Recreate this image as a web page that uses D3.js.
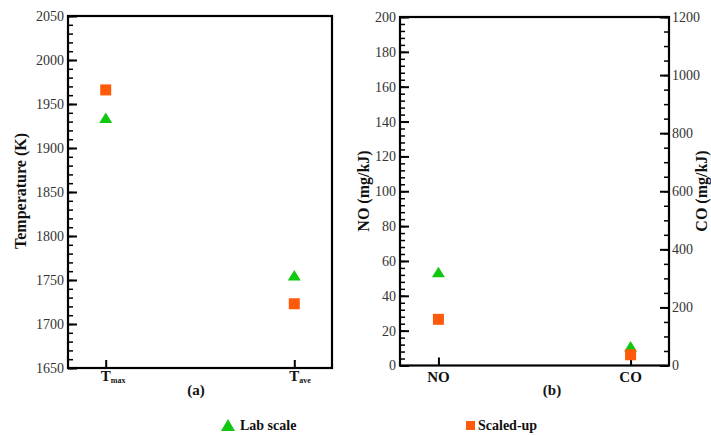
<!DOCTYPE html>
<html lang="en">
<head>
<meta charset="UTF-8">
<title>Temperature and emissions</title>
<script src="https://cdn.jsdelivr.net/npm/d3@7"></script>
<style>
  body { margin: 0; background: #fff; }
  svg text { font-family: 'Liberation Serif', 'Times New Roman', Times, serif; }
  .tick text { fill: #333; font-size: 14px; }
  .title { font-weight: bold; font-size: 16px; fill: #111; }
  .cat { font-weight: bold; font-size: 15px; fill: #111; }
</style>
</head>
<body>
<svg id="chart" width="711" height="435"></svg>
<script>

// panel (a): temperatures
var tempCats = ["max", "ave"];
var tempLab = [1934, 1755];
var tempScaled = [1966, 1723];
var tempTicks = [1650, 1700, 1750, 1800, 1850, 1900, 1950, 2000, 2050];

// panel (b): emissions, NO on left axis, CO on right axis
var emisCats = ["NO", "CO"];
var noLab = 53.5, noScaled = 26.5;
var coLab = 65, coScaled = 37;
var noTicks = [0, 20, 40, 60, 80, 100, 120, 140, 160, 180, 200];
var coTicks = [0, 200, 400, 600, 800, 1000, 1200];

var labColor = "#10c810";
var scaledColor = "#ff5a0a";

var svg = d3.select("#chart");

function triangle(g, x, y) {
  g.append("path")
    .attr("d", "M" + (x - 6.5) + "," + (y + 5) + "L" + (x + 6.5) + "," + (y + 5) + "L" + x + "," + (y - 5.5) + "Z")
    .attr("fill", labColor);
}
function square(g, x, y, s) {
  g.append("rect")
    .attr("x", x - s / 2).attr("y", y - s / 2)
    .attr("width", s).attr("height", s)
    .attr("fill", scaledColor);
}

function frame(g, l, t, r, b) {
  g.append("rect").attr("x", l).attr("y", t).attr("width", r - l).attr("height", b - t)
    .attr("fill", "none").attr("stroke", "#000").attr("stroke-width", 2.2);
}

// ticks point into the plot, no domain line (the frame draws it)
function styleAxis(a, w) {
  a.attr("font-family", null).attr("font-size", null);
  a.select(".domain").remove();
  a.selectAll(".tick line").attr("stroke", "#000").attr("stroke-width", w);
}

// ---------- panel (a) ----------
var A = { l: 68, t: 16, r: 332, b: 368 };
var ga = svg.append("g");
var xa = d3.scaleLinear().domain([-0.2, 1.2]).range([A.l, A.r]);
var ya = d3.scaleLinear().domain([1650, 2050]).range([A.b, A.t]);

styleAxis(ga.append("g").attr("transform", "translate(" + A.l + ",0)")
  .call(d3.axisLeft(ya).tickValues(d3.range(1650, 2051, 10)).tickSizeInner(-5).tickSizeOuter(0).tickFormat("")), 1.5);

styleAxis(ga.append("g").attr("transform", "translate(" + A.l + ",0)")
  .call(d3.axisLeft(ya).tickValues(tempTicks).tickSizeInner(-9).tickSizeOuter(0).tickPadding(4).tickFormat(d3.format("d"))), 2);

styleAxis(ga.append("g").attr("transform", "translate(0," + A.b + ")")
  .call(d3.axisBottom(xa).tickValues([0, 1]).tickSizeInner(-8).tickSizeOuter(0).tickFormat("")), 2);

frame(ga, A.l, A.t, A.r, A.b);

tempCats.forEach(function (c, i) {
  var t = ga.append("text").attr("class", "cat").attr("x", xa(i) - 5).attr("y", 381);
  t.append("tspan").text("T");
  t.append("tspan").text(c).attr("dy", 2).style("font-size", "8px");
});

ga.append("text").attr("class", "cat").attr("x", 196).attr("y", 395).attr("text-anchor", "middle").text("(a)");
ga.append("text").attr("class", "title")
  .attr("transform", "translate(26,191) rotate(-90)")
  .attr("text-anchor", "middle").text("Temperature (K)");

tempLab.forEach(function (v, i) { triangle(ga, xa(i), ya(v)); });
tempScaled.forEach(function (v, i) { square(ga, xa(i), ya(v), 11); });

// ---------- panel (b) ----------
var B = { l: 400, t: 17, r: 669, b: 365.5 };
var gb = svg.append("g");
var xb = d3.scaleLinear().domain([-0.2, 1.2]).range([B.l, B.r]);
var yNO = d3.scaleLinear().domain([0, 200]).range([B.b, B.t]);
var yCO = d3.scaleLinear().domain([0, 1200]).range([B.b, B.t]);

styleAxis(gb.append("g").attr("transform", "translate(" + B.l + ",0)")
  .call(d3.axisLeft(yNO).tickValues(d3.range(0, 201, 4)).tickSizeInner(-5).tickSizeOuter(0).tickFormat("")), 1.5);
styleAxis(gb.append("g").attr("transform", "translate(" + B.l + ",0)")
  .call(d3.axisLeft(yNO).tickValues(noTicks).tickSizeInner(-9).tickSizeOuter(0).tickPadding(4).tickFormat(d3.format("d"))), 2);

styleAxis(gb.append("g").attr("transform", "translate(" + B.r + ",0)")
  .call(d3.axisRight(yCO).tickValues(d3.range(0, 1201, 50)).tickSizeInner(-5).tickSizeOuter(0).tickFormat("")), 1.5);
styleAxis(gb.append("g").attr("transform", "translate(" + B.r + ",0)")
  .call(d3.axisRight(yCO).tickValues(coTicks).tickSizeInner(-9).tickSizeOuter(0).tickPadding(3).tickFormat(d3.format("d"))), 2);

styleAxis(gb.append("g").attr("transform", "translate(0," + B.b + ")")
  .call(d3.axisBottom(xb).tickValues([0, 1]).tickSizeInner(-8).tickSizeOuter(0).tickFormat("")), 2);

frame(gb, B.l, B.t, B.r, B.b);

emisCats.forEach(function (c, i) {
  gb.append("text").attr("class", "cat").attr("x", xb(i)).attr("y", 382)
    .attr("text-anchor", "middle").text(c);
});
gb.append("text").attr("class", "cat").attr("x", 552).attr("y", 395).attr("text-anchor", "middle").text("(b)");

gb.append("text").attr("class", "title")
  .attr("transform", "translate(369,191) rotate(-90)")
  .attr("text-anchor", "middle").text("NO (mg/kJ)");
gb.append("text").attr("class", "title")
  .attr("transform", "translate(707,191) rotate(-90)")
  .attr("text-anchor", "middle").text("CO (mg/kJ)");

triangle(gb, xb(0), yNO(noLab));
square(gb, xb(0), yNO(noScaled), 11);
triangle(gb, xb(1), yCO(coLab));
square(gb, xb(1), yCO(coScaled), 11);

// ---------- legend ----------
var lg = svg.append("g");
lg.append("path").attr("d", "M221,431L235,431L228,419Z").attr("fill", labColor);
lg.append("text").attr("class", "cat").attr("x", 240).attr("y", 430).style("font-size", "14px").text("Lab scale");
lg.append("rect").attr("x", 466).attr("y", 421).attr("width", 9).attr("height", 9).attr("fill", scaledColor);
lg.append("text").attr("class", "cat").attr("x", 478).attr("y", 430).style("font-size", "14px").text("Scaled-up");

</script>
</body>
</html>
